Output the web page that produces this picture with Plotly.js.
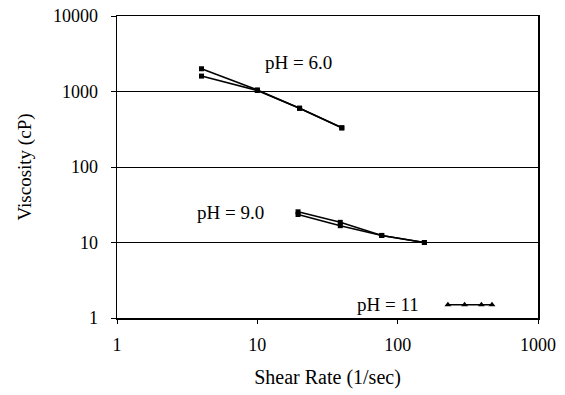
<!DOCTYPE html>
<html>
<head>
<meta charset="utf-8">
<script src="https://cdn.plot.ly/plotly-3.0.1.min.js"></script>
<style>html,body{margin:0;padding:0;background:#fff;}#chart{width:565px;height:395px;}</style>
</head>
<body>
<div id="chart"></div>
<script>
// Data
var ph6aX = [4, 10, 20, 40];
var ph6aY = [2000, 1050, 600, 330];
var ph6bX = [4, 10, 20, 40];
var ph6bY = [1600, 1030, 600, 330];
var ph9aX = [19.5, 39, 77, 155];
var ph9aY = [25.5, 18.5, 12.4, 10];
var ph9bX = [19.5, 39, 77, 155];
var ph9bY = [23.5, 16.7, 12.4, 10];
var ph11X = [228, 300, 395, 470];
var ph11Y = [1.5, 1.5, 1.5, 1.5];
var xTicks = [1, 10, 100, 1000];
var yTicks = [1, 10, 100, 1000, 10000];
var labels = ["pH = 6.0", "pH = 9.0", "pH = 11"];

var font = "Liberation Serif, Times New Roman, serif";
function tr(x, y, sym, sz) {
  return {x: x, y: y, type: "scatter", mode: "lines+markers",
    line: {color: "#000", width: 1.6},
    marker: {color: "#000", size: sz, symbol: sym},
    showlegend: false, hoverinfo: "skip"};
}
var data = [
  tr(ph6aX, ph6aY, "square", 5), tr(ph6bX, ph6bY, "square", 5),
  tr(ph9aX, ph9aY, "square", 5), tr(ph9bX, ph9bY, "square", 5),
  tr(ph11X, ph11Y, "triangle-up", 6)
];
function ann(t, px, py) {
  return {text: t, xref: "paper", yref: "paper", x: (px-117)/421, y: (318-py)/302,
    xanchor: "center", yanchor: "middle", showarrow: false, font: {family: font, size: 19}};
}
var layout = {
  width: 565, height: 395,
  margin: {l: 117, r: 27, t: 16, b: 77},
  paper_bgcolor: "#fff", plot_bgcolor: "#fff",
  font: {family: font, size: 18, color: "#000"},
  xaxis: {type: "log", range: [0, 3], tickvals: xTicks, ticktext: xTicks.map(String),
    showgrid: false, zeroline: false, showline: true, mirror: true,
    linecolor: "#000", linewidth: 1.5, ticks: "outside", ticklen: 4, tickcolor: "#000",
    tickfont: {family: font, size: 18}, ticklabelstandoff: 6,
    title: {text: "Shear Rate (1/sec)", font: {family: font, size: 20}, standoff: 16}},
  yaxis: {type: "log", range: [0, 4], tickvals: yTicks, ticktext: yTicks.map(String),
    showgrid: true, gridcolor: "#000", gridwidth: 1, zeroline: false,
    showline: true, mirror: true, linecolor: "#000", linewidth: 1.5,
    ticks: "outside", ticklen: 5, tickcolor: "#000",
    tickfont: {family: font, size: 18}, ticklabelstandoff: 9,
    title: {text: "Viscosity (cP)", font: {family: font, size: 19}, standoff: 16}},
  annotations: [
    ann(labels[0], 298, 62),
    ann(labels[1], 230, 212),
    ann(labels[2], 388, 304)
  ]
};
Plotly.newPlot("chart", data, layout, {staticPlot: true, displayModeBar: false});
</script>
</body>
</html>
